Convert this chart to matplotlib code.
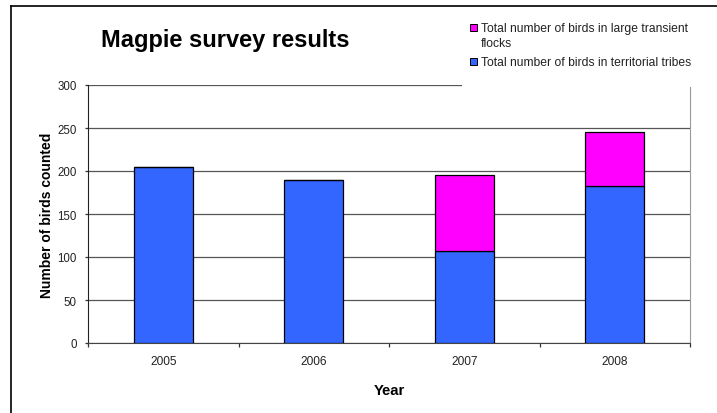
import matplotlib.pyplot as plt
import numpy as np
from matplotlib.lines import Line2D
from matplotlib.patches import Rectangle

plt.rcParams['font.family'] = ['Liberation Sans', 'DejaVu Sans']

# Survey counts per year
years = ['2005', '2006', '2007', '2008']
territorial = [205, 189, 107, 182]
transient = [0, 0, 88, 63]

series_labels = ['Total number of birds in large transient\nflocks',
                 'Total number of birds in territorial tribes']

blue = '#3366FF'
magenta = '#FF00FF'

W, H = 717, 414
fig = plt.figure(figsize=(W / 100, H / 100), dpi=100)
ax = fig.add_axes([88 / W, 1 - 344 / H, (690 - 88) / W, (344 - 86) / H])

x = np.arange(len(years))
ax.bar(x, territorial, width=0.39, color=blue, edgecolor='black', linewidth=0.9, zorder=3)
ax.bar(x, transient, width=0.39, bottom=territorial, color=magenta,
       edgecolor='black', linewidth=0.9, zorder=3)

ax.set_xlim(-0.5, len(years) - 0.5)
ax.set_ylim(0, 300)
ax.set_yticks(range(0, 301, 50))
ax.yaxis.grid(True, color='#555555', linewidth=0.9, zorder=0)
ax.set_axisbelow(True)

# category labels in the middle, tick marks on the boundaries
ax.set_xticks(x)
ax.set_xticklabels(years, fontsize=8.6, color='#222222')
ax.set_xticks(np.arange(-0.5, len(years)), minor=True)
ax.tick_params(axis='x', which='major', length=0, pad=9)
ax.tick_params(axis='x', which='minor', length=3, color='#333333', width=0.9)
ax.tick_params(axis='y', length=2.5, width=0.9, pad=5.5, labelsize=8.3,
               color='#333333', labelcolor='#222222')

ax.spines['top'].set_visible(False)
ax.spines['left'].set_color('#222222')
ax.spines['bottom'].set_color('#444444')
ax.spines['right'].set_color('#999999')

ax.set_xlabel('Year', fontsize=10.7, fontweight='bold', labelpad=11)
ax.set_ylabel('Number of birds counted', fontsize=10, fontweight='bold')
ax.yaxis.set_label_coords((54 - 88) / 602, 0.5)

fig.text(101 / W, 1 - 47 / H, 'Magpie survey results', fontsize=17,
         fontweight='bold', va='baseline', ha='left')

# white area behind the legend
fig.add_artist(Rectangle((462 / W, 1 - 88 / H), (W - 462) / W, 80 / H,
                         transform=fig.transFigure, facecolor='white',
                         edgecolor='none', zorder=4))

# legend drawn by hand: square key on the first line of each label
key_colors = [magenta, blue]
baselines = [31.7, 65.7]
line_step = 15
for label, col, base in zip(series_labels, key_colors, baselines):
    fig.add_artist(Rectangle((470 / W, 1 - base / H), 6.5 / W, 6.5 / H,
                             transform=fig.transFigure, facecolor=col,
                             edgecolor='black', linewidth=0.7, zorder=5))
    for i, line in enumerate(label.split('\n')):
        fig.text(481 / W, 1 - (base + i * line_step) / H, line, fontsize=8.7,
                 color='#222222', va='baseline', ha='left', zorder=5)

# outer chart frame
fig.add_artist(Line2D([11 / W, 1], [1 - 7 / H, 1 - 7 / H], transform=fig.transFigure,
                      color='black', linewidth=1.2))
fig.add_artist(Line2D([11 / W, 11 / W], [0, 1 - 7 / H], transform=fig.transFigure,
                      color='black', linewidth=1.2))

fig.savefig('out.png', dpi=100)
